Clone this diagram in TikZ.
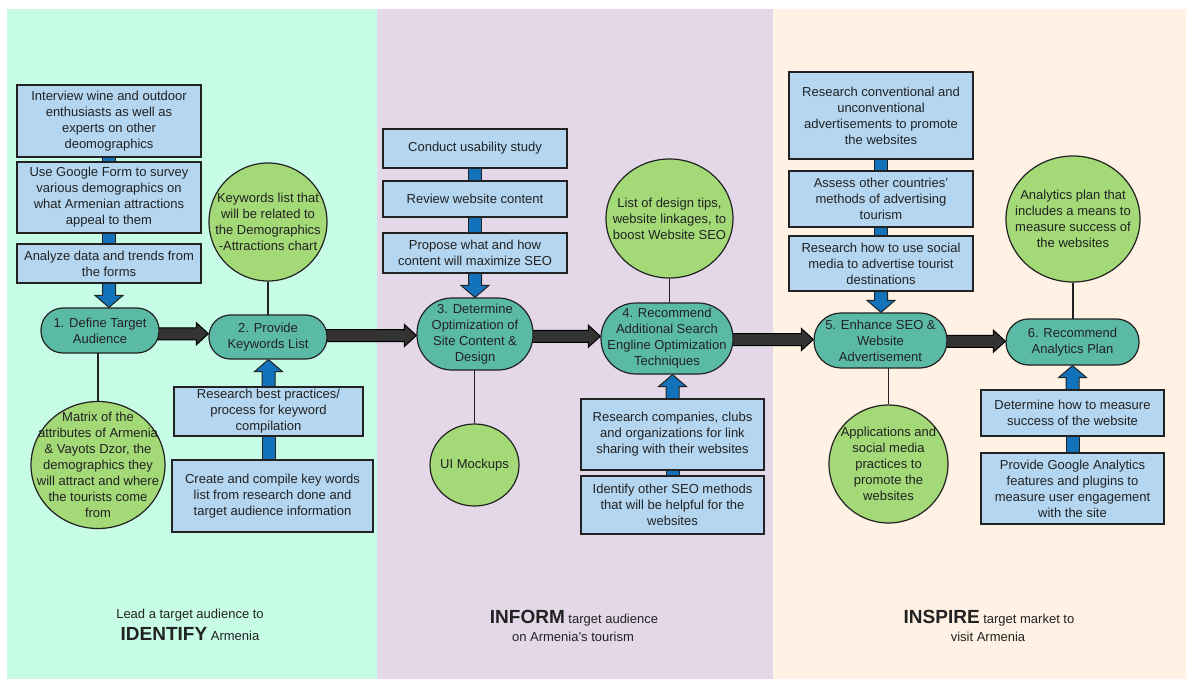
\documentclass[tikz,border=0pt]{standalone}
\usepackage{fontspec}
\setmainfont{Liberation Sans}
\usetikzlibrary{calc,shapes.geometric}
\pgfdeclarelayer{background}
\pgfsetlayers{background,main}

\definecolor{mintbg}{RGB}{199,252,230}
\definecolor{lilacbg}{RGB}{228,216,232}
\definecolor{creambg}{RGB}{255,241,227}
\definecolor{taskblue}{RGB}{180,214,240}
\definecolor{stageteal}{RGB}{91,186,166}
\definecolor{resultgreen}{RGB}{163,217,119}
\definecolor{linkblue}{RGB}{18,115,186}
\definecolor{flowgray}{RGB}{51,51,51}
\definecolor{ink}{RGB}{34,34,34}

\tikzset{
  every node/.style={font=\fontsize{13}{16}\selectfont, text=ink, align=center},
  task/.style={rectangle, draw=ink, line width=1.2pt, fill=taskblue, inner sep=0pt},
  stage/.style={rectangle, rounded corners=#1, draw=ink, line width=1.2pt, fill=stageteal, inner sep=0pt},
  stage/.default=22pt,
  result/.style={ellipse, draw=ink, line width=1.2pt, fill=resultgreen, inner sep=-20pt},
  link/.style={draw=ink, line width=1pt, fill=linkblue},
  flow/.style={draw=black, line width=1pt, fill=flowgray},
  tie/.style={draw=ink, line width=1.2pt},
  caption/.style={anchor=base},
}

\newcommand{\headword}[1]{{\fontsize{19}{22}\selectfont\bfseries #1}}

\newcommand{\linkbar}[2]{%
  \coordinate (#2-top) at (#2.center -| #1.center);
  \draw[link] ($(#1.center)+(-6.5,0)$) rectangle ($(#2-top)+(6.5,0)$);}

\newcommand{\linkdown}[2]{%
  \coordinate (#2-tip) at (#2.north -| #1.center);
  \draw[link] ($(#1.center)+(-6.5,0)$) -- ($(#2-tip)+(-6.5,-12)$) -- ($(#2-tip)+(-14,-12)$) -- (#2-tip)
    -- ($(#2-tip)+(14,-12)$) -- ($(#2-tip)+(6.5,-12)$) -- ($(#1.center)+(6.5,0)$) -- cycle;}

\newcommand{\linkup}[2]{%
  \coordinate (#2-tip) at (#2.south -| #1.center);
  \draw[link] ($(#1.center)+(-6.5,0)$) -- ($(#2-tip)+(-6.5,12)$) -- ($(#2-tip)+(-14,12)$) -- (#2-tip)
    -- ($(#2-tip)+(14,12)$) -- ($(#2-tip)+(6.5,12)$) -- ($(#1.center)+(6.5,0)$) -- cycle;}

\newcommand{\flowright}[2]{%
  \coordinate (#1-mid) at ($(#1.center)!0.5!(#2.center)$);
  \coordinate (#1-tail) at (#1.center |- #1-mid);
  \coordinate (#2-tip) at (#2.west |- #1-mid);
  \draw[flow] ($(#1-tail)+(0,-6)$) -- ($(#2-tip)+(-12,-6)$) -- ($(#2-tip)+(-12,-11)$) -- (#2-tip)
    -- ($(#2-tip)+(-12,11)$) -- ($(#2-tip)+(-12,6)$) -- ($(#1-tail)+(0,6)$) -- cycle;}

\begin{document}
\begin{tikzpicture}[x=1pt,y=-1pt]
\useasboundingbox (0,0) rectangle (1186,679);

\node[task, minimum width=184pt, minimum height=72pt] (a1) at (109,121) {Interview wine and outdoor\\enthusiasts as well as\\experts on other\\deomographics};
\node[task, minimum width=184pt, minimum height=71pt] (a2) at (109,197.5) {Use Google Form to survey\\various demographics on\\what Armenian attractions\\appeal to them};
\node[task, minimum width=184pt, minimum height=39pt] (a3) at (109,263.5) {Analyze data and trends from\\the forms};
\node[stage=22pt, minimum width=118pt, minimum height=45pt] (s1) at (100,330.5) {1. Define Target\\Audience};
\node[result, minimum width=134pt, minimum height=127pt] (matrix) at (98,465) {Matrix of the\\attributes of Armenia\\\& Vayots Dzor, the\\demographics they\\will attract and where\\the tourists come\\from};
\node[result, minimum width=118pt, minimum height=118pt] (keywords) at (268,222) {Keywords list that\\will be related to\\the Demographics\\-Attractions chart};
\node[stage=21.5pt, minimum width=118pt, minimum height=44pt] (s2) at (268,337) {2. Provide\\Keywords List};
\node[task, minimum width=189pt, minimum height=49pt] (b1) at (268.5,411.5) {Research best practices/\\process for keyword\\compilation};
\node[task, minimum width=201pt, minimum height=72pt] (b2) at (272.5,496) {Create and compile key words\\list from research done and\\target audience information};

\node[task, minimum width=184pt, minimum height=39pt] (c1) at (475,148.5) {Conduct usability study};
\node[task, minimum width=184pt, minimum height=36pt] (c2) at (475,199) {Review website content};
\node[task, minimum width=184pt, minimum height=40pt] (c3) at (475,253) {Propose what and how\\content will maximize SEO};
\node[stage=35pt, minimum width=116pt, minimum height=72pt] (s3) at (475,334) {3. Determine\\Optimization of\\Site Content \&\\Design};
\node[result, minimum width=89pt, minimum height=82pt] (mockups) at (474.5,465) {UI Mockups};
\node[result, minimum width=127pt, minimum height=119pt] (tips) at (669.5,218.5) {List of design tips,\\website linkages, to\\boost Website SEO};
\node[stage=35pt, minimum width=132pt, minimum height=71pt] (s4) at (667,338.5) {4. Recommend\\Additional Search\\Engline Optimization\\Techniques};
\node[task, minimum width=183pt, minimum height=71pt] (d1) at (672.5,434.5) {Research companies, clubs\\and organizations for link\\sharing with their websites};
\node[task, minimum width=183pt, minimum height=58pt] (d2) at (672.5,505) {Identify other SEO methods\\that will be helpful for the\\websites};

\node[task, minimum width=184pt, minimum height=87pt] (e1) at (881,115.5) {Research conventional and\\unconventional\\advertisements to promote\\the websites};
\node[task, minimum width=184pt, minimum height=56pt] (e2) at (881,199) {Assess other countries'\\methods of advertising\\tourism};
\node[task, minimum width=184pt, minimum height=55pt] (e3) at (881,263.5) {Research how to use social\\media to advertise tourist\\destinations};
\node[stage=27pt, minimum width=133pt, minimum height=55pt] (s5) at (880.5,340.5) {5. Enhance SEO \&\\Website\\Advertisement};
\node[result, minimum width=119pt, minimum height=118pt] (apps) at (888.5,464) {Applications and\\social media\\practices to\\promote the\\websites};
\node[result, minimum width=134pt, minimum height=126pt] (analytics) at (1073,219) {Analytics plan that\\includes a means to\\measure success of\\the websites};
\node[stage=22.5pt, minimum width=133pt, minimum height=46pt] (s6) at (1072.5,342) {6. Recommend\\Analytics Plan};
\node[task, minimum width=183pt, minimum height=46pt] (f1) at (1072.5,413) {Determine how to measure\\success of the website};
\node[task, minimum width=183pt, minimum height=71pt] (f2) at (1072.5,488.5) {Provide Google Analytics\\features and plugins to\\measure user engagement\\with the site};

\node[caption] (identify1) at (190,618) {Lead a target audience to};
\node[caption] (identify2) at (190,640) {\headword{IDENTIFY} Armenia};
\node[caption] (inform1) at (574,623) {\headword{INFORM} target audience};
\node[caption] (inform2) at (573,641) {on Armenia's tourism};
\node[caption] (inspire1) at (989,623) {\headword{INSPIRE} target market to};
\node[caption] (inspire2) at (988,641) {visit Armenia};

\begin{pgfonlayer}{background}
\fill[white] (0,0) rectangle (1186,679);
\fill[mintbg] (7,9) rectangle (377,679);
\fill[lilacbg] (377,9) rectangle (773,679);
\fill[creambg] (773,9) rectangle (1186,679);

\draw[tie] (matrix) -- (matrix |- s1.center);
\draw[tie] (keywords) -- (keywords |- s2.center);
\draw[tie] (mockups) -- (mockups |- s3.center);
\draw[tie] (tips) -- (tips |- s4.center);
\draw[tie] (apps) -- (apps |- s5.center);
\draw[tie] (analytics) -- (analytics |- s6.center);

\linkbar{a1}{a2}
\linkbar{a2}{a3}
\linkdown{a3}{s1}
\linkbar{b1}{b2}
\linkup{b1}{s2}
\linkbar{c1}{c2}
\linkbar{c2}{c3}
\linkdown{c3}{s3}
\linkbar{d1}{d2}
\linkup{d1}{s4}
\linkbar{e1}{e2}
\linkbar{e2}{e3}
\linkdown{e3}{s5}
\linkbar{f1}{f2}
\linkup{f1}{s6}

\flowright{s1}{s2}
\flowright{s2}{s3}
\flowright{s3}{s4}
\flowright{s4}{s5}
\flowright{s5}{s6}
\end{pgfonlayer}
\end{tikzpicture}
\end{document}
